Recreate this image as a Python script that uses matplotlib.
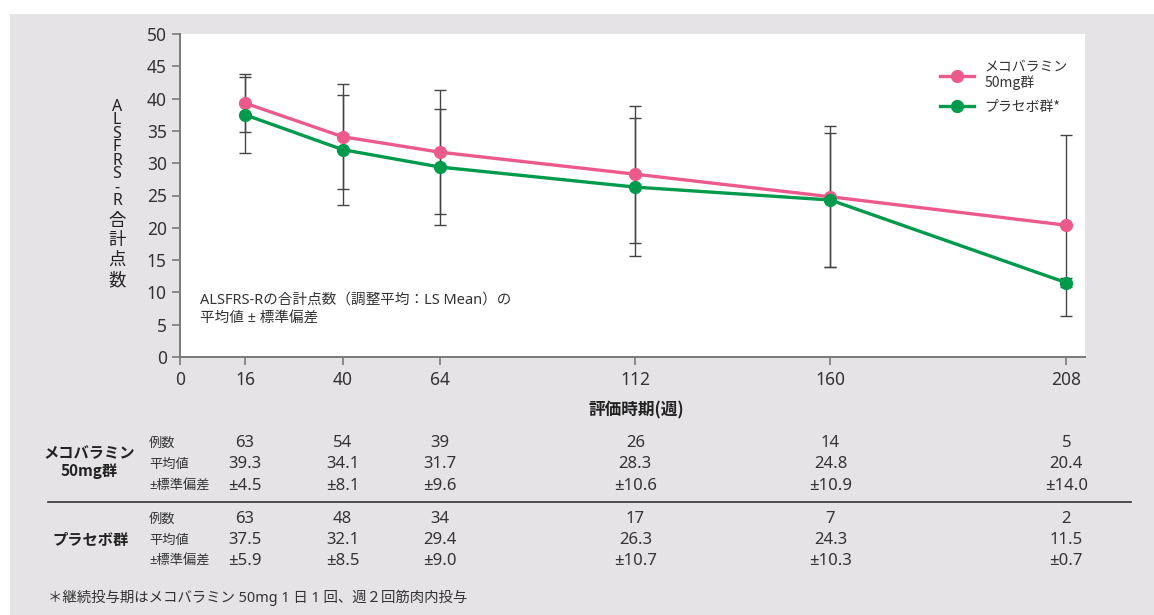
import numpy as np
import matplotlib
matplotlib.use("Agg")
import matplotlib.pyplot as plt
from matplotlib.patches import Rectangle

plt.rcParams['font.family'] = ['Noto Sans CJK JP', 'DejaVu Sans']
LATIN = ['Noto Sans', 'Noto Sans CJK JP']

weeks = [16, 40, 64, 112, 160, 208]
meco_n = [63, 54, 39, 26, 14, 5]
meco_mean = [39.3, 34.1, 31.7, 28.3, 24.8, 20.4]
meco_sd = [4.5, 8.1, 9.6, 10.6, 10.9, 14.0]
plac_n = [63, 48, 34, 17, 7, 2]
plac_mean = [37.5, 32.1, 29.4, 26.3, 24.3, 11.5]
plac_sd = [5.9, 8.5, 9.0, 10.7, 10.3, 0.7]
xticks = [0, 16, 40, 64, 112, 160, 208]
yticks = list(range(0, 51, 5))

meco_label = "メコバラミン\n50mg群"
plac_label = "プラセボ群*"
ylabel_latin = "ALSFRS-R"
ylabel_kanji = "合計点数"
xlabel = "評価時期(週)"
note = "ALSFRS-Rの合計点数（調整平均：LS Mean）の\n平均値 ± 標準偏差"
row_labels = ["例数", "平均値", "±標準偏差"]
group_labels = ["メコバラミン\n50mg群", "プラセボ群"]
footnote = "＊継続投与期はメコバラミン 50mg 1 日 1 回、週２回筋肉内投与"

PINK = "#ec5a8c"
GREEN = "#009a4c"
BG = "#e5e3e6"
W, H = 1154, 615

fig = plt.figure(figsize=(W / 100, H / 100), dpi=100)
fig.patch.set_facecolor("white")
fig.patches.append(Rectangle((10 / W, 0), 1 - 10 / W, 1 - 14 / H,
                             transform=fig.transFigure, facecolor=BG,
                             edgecolor="none", zorder=-10))

ax = fig.add_axes([180 / W, 1 - 357 / H, (1085 - 180) / W, (357 - 34) / H])
ax.set_facecolor("white")

# piecewise-linear week scale (last interval is drawn wider in the original)
src = np.array([0.0, 160.0, 208.0, 300.0])
dst = np.array([0.0, 160.0, 218.0, 310.0])
fwd = lambda x: np.interp(x, src, dst)
inv = lambda y: np.interp(y, dst, src)
ax.set_xscale('function', functions=(fwd, inv))
ax.set_xlim(0, inv(np.array([222.6]))[0])
ax.set_ylim(0, 50)

for mean, sd in [(meco_mean, meco_sd), (plac_mean, plac_sd)]:
    ax.errorbar(weeks, mean, yerr=sd, fmt='none', ecolor="#444444",
                elinewidth=1.0, capsize=4.5, capthick=1.0, zorder=2)
for mean, col, lab in [(meco_mean, PINK, meco_label), (plac_mean, GREEN, plac_label)]:
    ax.plot(weeks, mean, color=col, lw=2.4, marker='o', ms=8.5,
            label=lab, zorder=3)

for s in ["top", "right"]:
    ax.spines[s].set_visible(False)
for s in ["left", "bottom"]:
    ax.spines[s].set_color("#7a7a7a")
    ax.spines[s].set_linewidth(1.4)
ax.set_xticks(xticks)
ax.set_yticks(yticks)
ax.tick_params(axis='both', colors="#7a7a7a", width=1.2, length=6,
               labelcolor="#333333", labelsize=12.5)
ax.tick_params(axis='x', pad=4)
for t in ax.get_xticklabels() + ax.get_yticklabels():
    t.set_family(LATIN)

leg = ax.legend(loc="upper right", bbox_to_anchor=(0.995, 0.96), frameon=False,
                fontsize=10, handlelength=2.4, labelspacing=0.7,
                labelcolor="#333333")

ax.text(0.022, 0.095, note, transform=ax.transAxes, fontsize=10.5,
        color="#333333", va="bottom", ha="left", linespacing=1.3, family=LATIN)

# vertical stacked y label: Latin part and kanji part
fig.text(117 / W, 1 - 99 / H, "\n".join(ylabel_latin), ha="center", va="top",
         fontsize=11.5, color="#222222", linespacing=0.79,
         family=['Noto Sans'])
fig.text(117 / W, 1 - 289 / H, "\n".join(ylabel_kanji), ha="center",
         va="bottom", fontsize=12.5, color="#222222", linespacing=1.13,
         family=['Noto Sans CJK JP'])

fig.text(636 / W, 1 - 410 / H, xlabel, ha="center", va="center",
         fontsize=12, fontweight="bold", color="#222222")

# table below
tx = lambda w: ax.transData.transform((w, 0))[0] / W
rows_y = [[443, 464, 486], [519, 540, 561]]
for g, (ns, ms, sds) in enumerate([(meco_n, meco_mean, meco_sd),
                                    (plac_n, plac_mean, plac_sd)]):
    ys = rows_y[g]
    for r, lab in enumerate(row_labels):
        fig.text(149 / W, 1 - ys[r] / H, lab, ha="left", va="center",
                 fontsize=9.5, color="#333333", family=LATIN)
    for i, w in enumerate(weeks):
        vals = [str(ns[i]), f"{ms[i]:.1f}", f"±{sds[i]:.1f}"]
        for r, v in enumerate(vals):
            fig.text(tx(w), 1 - ys[r] / H, v, ha="center", va="center",
                     fontsize=12, color="#333333", family=LATIN)
fig.text(89 / W, 1 - 462 / H, group_labels[0], ha="center", va="center",
         fontsize=11, fontweight="bold", color="#222222", linespacing=1.15)
fig.text(91 / W, 1 - 540 / H, group_labels[1], ha="center", va="center",
         fontsize=11, fontweight="bold", color="#222222")
fig.add_artist(plt.Line2D([48 / W, 1131 / W], [1 - 502 / H, 1 - 502 / H],
                          color="#333333", lw=1.2, transform=fig.transFigure))
fig.text(48 / W, 1 - 598 / H, footnote, ha="left", va="center",
         fontsize=10.4, color="#333333", family=LATIN)

fig.savefig("out.png", dpi=100, facecolor=fig.get_facecolor())
